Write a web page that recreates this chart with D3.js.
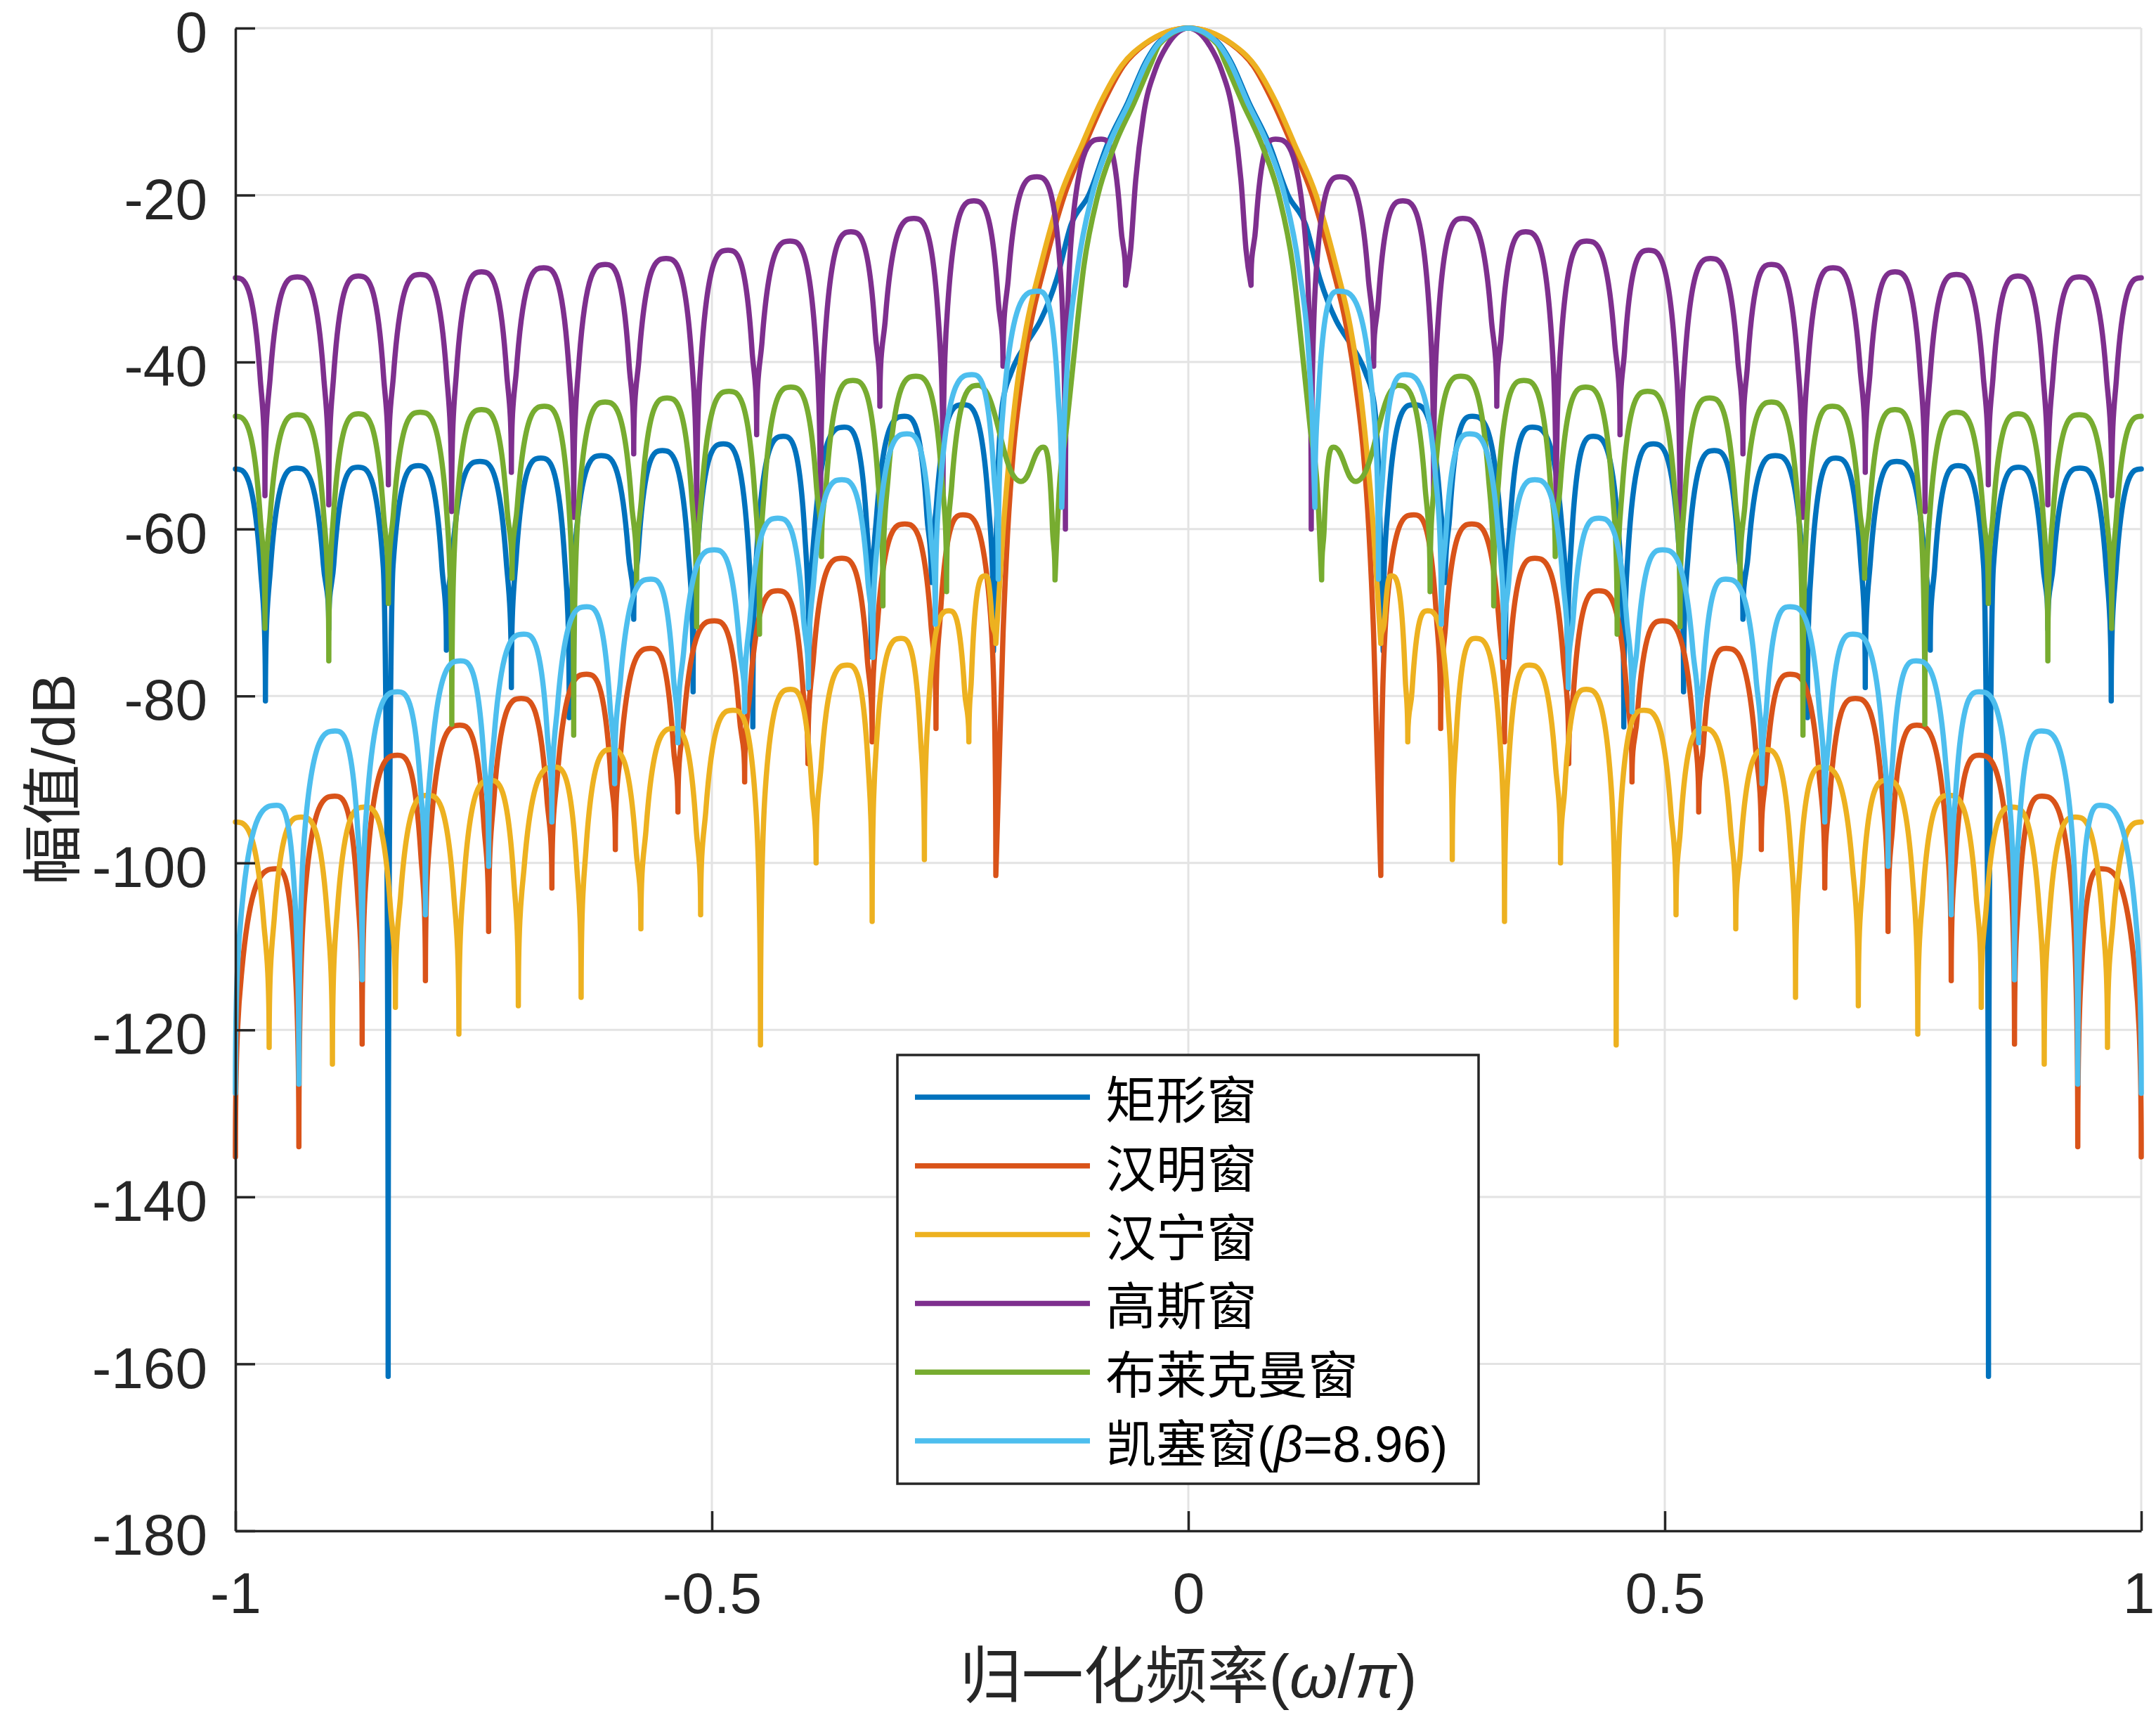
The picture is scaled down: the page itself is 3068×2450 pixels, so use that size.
<!DOCTYPE html>
<html>
<head>
<meta charset="utf-8">
<script src="https://cdn.jsdelivr.net/npm/d3@7"></script>
<style>
  body { margin: 0; background: #fff; }
</style>
</head>
<body>
<svg id="chart"></svg>
<script>
// values, right half only (0 <= w/pi <= 1); the spectra are mirrored about 0
// main = points on the main lobe, nulls / peaks = side lobe minima / maxima [x, dB], edge = value at w/pi = 1

// 矩形窗 (blue)
const rectMain = [[0, 0], [0.031, -1.7], [0.0445, -4], [0.0635, -8.9], [0.0845, -13.8], [0.1045, -20], [0.1232, -23.6],
  [0.138, -30], [0.155, -35], [0.17, -37.8], [0.186, -41.3], [0.195, -45], [0.2, -54]]
const rectNulls = [[0.2045, -74.6], [0.2697, -66.4], [0.3328, -75.3], [0.398, -79.2], [0.457, -83.7], [0.5197, -79.5],
  [0.582, -70.8], [0.6497, -82.6], [0.7104, -79.0], [0.7786, -74.5], [0.8397, -161.5], [0.902, -72], [0.9685, -80.6]]
const rectPeaks = [[0.2365, -45.1], [0.298, -46.5], [0.361, -47.8], [0.425, -48.9], [0.488, -49.8], [0.552, -50.6],
  [0.616, -51.2], [0.6795, -51.5], [0.7434, -51.9], [0.8081, -52.4], [0.8712, -52.6], [0.9357, -52.7]]
const rectEdge = -52.8

// 汉明窗 (orange)
const hammingMain = [[0, 0], [0.045, -1.9], [0.068, -4.5], [0.089, -8.9], [0.108, -13.8], [0.13, -20], [0.151, -28.5],
  [0.166, -35.8], [0.176, -43.1], [0.1834, -50.4], [0.1895, -60.2], [0.1944, -72.4]]
const hammingNulls = [[0.202, -101.5], [0.2648, -83.9], [0.3318, -85.5], [0.3992, -88.1], [0.4656, -90.3], [0.5356, -93.9],
  [0.6013, -98.4], [0.6679, -103.0], [0.7343, -108.2], [0.8006, -114.1], [0.867, -121.7], [0.9334, -134.0]]
const hammingPeaks = [[0.2365, -58.3], [0.2975, -59.4], [0.3636, -63.5], [0.4307, -67.4], [0.4975, -71.0], [0.5644, -74.3],
  [0.6315, -77.4], [0.70, -80.3], [0.7645, -83.5], [0.830, -87.1], [0.8958, -92.0], [0.9575, -100.7]]
const hammingEdge = -135.2

// 汉宁窗 (yellow)
const hanningMain = [[0, 0], [0.046, -1.9], [0.07, -4.5], [0.092, -8.9], [0.111, -13.8], [0.134, -20], [0.155, -28.5],
  [0.170, -35.8], [0.18, -43.1], [0.187, -50.4], [0.1944, -60.2]]
const hanningNulls = [[0.202, -73.7], [0.2303, -85.5], [0.277, -99.6], [0.3318, -107], [0.3906, -100], [0.449, -121.8],
  [0.5118, -106.2], [0.5745, -107.9], [0.6372, -116.1], [0.7031, -117.1], [0.7655, -120.5], [0.8321, -117.3],
  [0.8982, -124.1], [0.9646, -122.1]]
const hanningPeaks = [[0.2131, -65.6], [0.2512, -69.8], [0.3016, -73.1], [0.3579, -76.3], [0.4176, -79.2], [0.4779, -81.7],
  [0.5406, -83.9], [0.6057, -86.4], [0.6654, -88.5], [0.7325, -90.1], [0.7982, -91.9], [0.8646, -93.3], [0.9309, -94.5]]
const hanningEdge = -95.1

// 高斯窗 (purple)
const gaussMain = [[0, 0], [0.0224, -2.1], [0.0347, -5.0], [0.047, -10.4], [0.0556, -18.7], [0.0605, -26.5]]
const gaussNulls = [[0.0658, -30.8], [0.129, -60], [0.1945, -40.5], [0.2574, -56], [0.3237, -45.3], [0.386, -61],
  [0.453, -48.7], [0.516, -60], [0.582, -51], [0.645, -58.6], [0.7104, -53.2], [0.7731, -57.9], [0.8395, -54.7],
  [0.902, -57.1], [0.969, -56.0]]
const gaussPeaks = [[0.0915, -13.3], [0.159, -17.8], [0.225, -20.7], [0.288, -22.8], [0.354, -24.4], [0.418, -25.5],
  [0.483, -26.6], [0.548, -27.6], [0.612, -28.3], [0.6765, -28.7], [0.7417, -29.2], [0.806, -29.5], [0.8707, -29.7],
  [0.935, -29.8]]
const gaussEdge = -29.9

// 布莱克曼窗 (green) - third value 1 marks the rounded trough next to the main lobe
const blackmanMain = [[0, 0], [0.03, -1.9], [0.0383, -4], [0.0568, -8.9], [0.0765, -13.8], [0.0949, -20], [0.1096, -28.5],
  [0.1207, -40], [0.128, -48], [0.1355, -55.3]]
const blackmanNulls = [[0.1399, -66.1], [0.1755, -54.3, 1], [0.2537, -67.5], [0.3205, -69.2], [0.385, -63.3], [0.45, -72.6],
  [0.516, -71.7], [0.579, -66.8], [0.645, -84.7], [0.7097, -65.9], [0.7729, -83.4], [0.8395, -68.9], [0.902, -75.8],
  [0.969, -71.9]]
const blackmanPeaks = [[0.1525, -50.2], [0.2205, -42.8], [0.286, -41.7], [0.352, -42.2], [0.417, -43.0], [0.482, -43.5],
  [0.547, -44.3], [0.612, -44.8], [0.6758, -45.3], [0.7417, -45.7], [0.806, -46.0], [0.8707, -46.2], [0.935, -46.3]]
const blackmanEdge = -46.5

// 凯塞窗 (light blue)
const kaiserMain = [[0, 0], [0.03, -1.7], [0.0433, -4], [0.0622, -8.9], [0.0826, -13.8], [0.101, -20], [0.1158, -28.5],
  [0.1268, -40], [0.1305, -48]]
const kaiserNulls = [[0.1328, -57.4], [0.1995, -66], [0.2655, -71.4], [0.3311, -75.4], [0.3987, -79.0], [0.4656, -81.9],
  [0.5356, -85.6], [0.602, -90.5], [0.6679, -95.1], [0.7343, -100.4], [0.8006, -106.2], [0.867, -114.0], [0.9334, -126.5]]
const kaiserPeaks = [[0.158, -31.5], [0.2272, -41.5], [0.2953, -48.6], [0.3636, -54.1], [0.4307, -58.7], [0.4975, -62.5],
  [0.564, -66.0], [0.6315, -69.3], [0.6974, -72.6], [0.7637, -75.8], [0.830, -79.5], [0.8953, -84.2], [0.9568, -93.1]]
const kaiserEdge = -127.6

const legendNames = ["矩形窗", "汉明窗", "汉宁窗", "高斯窗", "布莱克曼窗", "凯塞窗(β=8.96)"]
const colors = ["#0072BD", "#D95319", "#EDB120", "#7E2F8E", "#77AC30", "#4DBEEE"]
const xTicks = [-1, -0.5, 0, 0.5, 1]
const yTicks = [-180, -160, -140, -120, -100, -80, -60, -40, -20, 0]

var dimensions = {
    width: 3068,
    height: 2450,
    margin: { top: 40, bottom: 272, left: 335, right: 21 }
}
const latin = "'Liberation Sans', Arial, Helvetica, sans-serif"
const cjk = "'Noto Sans CJK SC', 'Noto Sans', sans-serif"

var svg = d3.select("#chart")
    .attr("width", dimensions.width)
    .attr("height", dimensions.height)

var x = d3.scaleLinear().domain([-1, 1])
    .range([dimensions.margin.left, dimensions.width - dimensions.margin.right])
var y = d3.scaleLinear().domain([-180, 0])
    .range([dimensions.height - dimensions.margin.bottom, dimensions.margin.top])

// grid
var grid = svg.append("g").attr("stroke", "#e3e3e3").attr("stroke-width", 3)
grid.selectAll(null).data(xTicks.filter(d => d > -1)).enter().append("line")
    .attr("x1", d => x(d)).attr("x2", d => x(d))
    .attr("y1", y(-180)).attr("y2", y(0))
grid.selectAll(null).data(yTicks.filter(d => d > -180)).enter().append("line")
    .attr("x1", x(-1)).attr("x2", x(1))
    .attr("y1", d => y(d)).attr("y2", d => y(d))

// one side lobe half, from a null n to a peak pk (sine lobe look: sharp notch, round top)
const LOBE_K = 20 / Math.LN10 * Math.PI / 2
function lobeSegs(n, pk) {
    const D = Math.max(pk[1] - n[1], 0.5)
    const w = pk[0] - n[0]
    const P = (t, v) => [n[0] + t * w, pk[1] + v]
    if (n[2]) return [[P(0, -D), P(0.45, -D), P(0.55, 0), P(1, 0)]]
    const vk = -Math.min(12, 0.6 * D)
    const tk = 2 / Math.PI * Math.asin(Math.pow(10, vk / 20))
    const slope = LOBE_K / Math.tan(Math.PI * tk / 2)
    const c2x = tk + 0.65 * (1 - tk)
    const c1x = Math.min(tk - vk / slope, c2x)
    const d = tk * 0.35
    return [
        [P(0, -D), P(0, -D + 0.7 * (D + vk)), P(tk - d, vk - d * slope), P(tk, vk)],
        [P(tk, vk), P(c1x, 0), P(c2x, 0), P(1, 0)]
    ]
}

function addLobe(p, a, b, aIsNull) {
    var segs = aIsNull ? lobeSegs(a, b) : lobeSegs(b, a).reverse().map(c => c.slice().reverse())
    segs.forEach(c => p.bezierCurveTo(x(c[1][0]), y(c[1][1]), x(c[2][0]), y(c[2][1]), x(c[3][0]), y(c[3][1])))
}

function buildPath(s) {
    var p = d3.path()
    var R = []
    s.nulls.forEach((nl, i) => { R.push(nl); if (s.peaks[i]) R.push(s.peaks[i]) })
    R.push([1, s.edge])
    var n = R.length
    var isNull = j => j % 2 === 0
    var L = R.map(d => [-d[0], d[1], d[2]]).reverse()
    p.moveTo(x(L[0][0]), y(L[0][1]))
    for (let j = 0; j < n - 1; j++) addLobe(p, L[j], L[j + 1], isNull(n - 1 - j))
    var mainPts = [L[n - 1]].concat(s.main.slice(1).reverse().map(d => [-d[0], d[1]]), s.main, [R[0]])
    d3.line().x(d => x(d[0])).y(d => y(d[1])).curve(d3.curveMonotoneX).context(p)(mainPts)
    for (let j = 0; j < n - 1; j++) addLobe(p, R[j], R[j + 1], isNull(j))
    return p.toString()
}

var series = [
    { main: rectMain, nulls: rectNulls, peaks: rectPeaks, edge: rectEdge },
    { main: hammingMain, nulls: hammingNulls, peaks: hammingPeaks, edge: hammingEdge },
    { main: hanningMain, nulls: hanningNulls, peaks: hanningPeaks, edge: hanningEdge },
    { main: gaussMain, nulls: gaussNulls, peaks: gaussPeaks, edge: gaussEdge },
    { main: blackmanMain, nulls: blackmanNulls, peaks: blackmanPeaks, edge: blackmanEdge },
    { main: kaiserMain, nulls: kaiserNulls, peaks: kaiserPeaks, edge: kaiserEdge }
]

svg.append("g").selectAll("path")
    .data(series)
    .enter()
    .append("path")
    .attr("d", d => buildPath(d))
    .attr("fill", "none")
    .attr("stroke", (d, i) => colors[i])
    .attr("stroke-width", 7.5)
    .attr("stroke-linejoin", "round")
    .attr("stroke-linecap", "round")

// axes
var xAxis = svg.append("g")
    .attr("transform", `translate(0,${y(-180)})`)
    .call(d3.axisBottom(x).tickValues(xTicks).tickSizeInner(-28).tickSizeOuter(0).tickPadding(59).tickFormat(d => String(d)))
var yAxis = svg.append("g")
    .attr("transform", `translate(${x(-1)},0)`)
    .call(d3.axisLeft(y).tickValues(yTicks).tickSizeInner(-28).tickSizeOuter(0).tickPadding(40).tickFormat(d => String(d)))
;[xAxis, yAxis].forEach(a => {
    a.attr("font-size", 82).attr("font-family", latin).attr("color", "#262626")
    a.selectAll("line, path").attr("stroke-width", 3.5)
})
yAxis.selectAll("text").attr("dy", "0.41em")
xAxis.selectAll("text").filter(d => d === 1).attr("dx", -4)

// mixed CJK / latin / greek text
function richText(sel, str) {
    var run = null, kind = null
    for (const ch of str) {
        var k = /[\u4e00-\u9fff]/.test(ch) ? "cjk" : /[α-ω]/.test(ch) ? "greek" : "latin"
        if (k !== kind) {
            run = sel.append("tspan").attr("font-family", k === "cjk" ? cjk : latin)
            if (k === "greek") run.attr("font-style", "italic")
            kind = k
        }
        run.text(run.text() + ch)
    }
}

var xTitle = svg.append("text")
    .attr("x", x(0))
    .attr("y", 2415)
    .attr("text-anchor", "middle")
    .attr("font-size", 88)
    .attr("fill", "#262626")
richText(xTitle, "归一化频率(ω/π)")

var yTitle = svg.append("text")
    .attr("transform", `translate(106,${y(-90)}) rotate(-90)`)
    .attr("text-anchor", "middle")
    .attr("font-size", 86)
    .attr("fill", "#262626")
richText(yTitle, "幅值/dB")

// legend
var legend = svg.append("g")
legend.append("rect")
    .attr("x", 1277).attr("y", 1501)
    .attr("width", 827).attr("height", 610)
    .attr("fill", "#fff")
    .attr("stroke", "#262626")
    .attr("stroke-width", 3.5)
legendNames.forEach((nm, i) => {
    var ry = 1561 + i * 97.8
    legend.append("line")
        .attr("x1", 1302).attr("x2", 1551)
        .attr("y1", ry).attr("y2", ry)
        .attr("stroke", colors[i])
        .attr("stroke-width", 7.5)
    var t = legend.append("text")
        .attr("x", 1573)
        .attr("y", ry + 30)
        .attr("font-size", 72)
        .attr("fill", "#000")
    richText(t, nm)
})
</script>
</body>
</html>
